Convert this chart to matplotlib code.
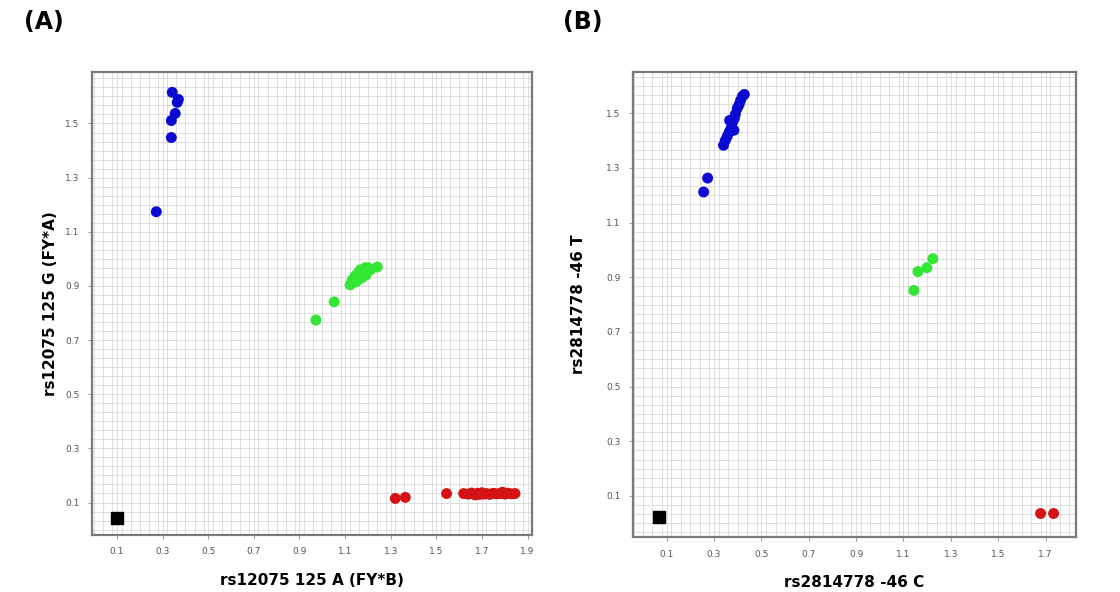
import numpy as np
import matplotlib
matplotlib.use("Agg")
import matplotlib.pyplot as plt
from matplotlib.ticker import MultipleLocator

# ---- panel A: rs12075 (FY*A / FY*B) ----
a_blue_x = [0.342, 0.369, 0.364, 0.355, 0.338, 0.338, 0.272]
a_blue_y = [1.615, 1.589, 1.578, 1.537, 1.511, 1.448, 1.174]
a_green_x = [0.972, 1.052, 1.241, 1.122, 1.131, 1.144, 1.157, 1.166, 1.179, 1.188,
             1.201, 1.210, 1.148, 1.174, 1.192, 1.135, 1.160]
a_green_y = [0.774, 0.841, 0.970, 0.904, 0.922, 0.937, 0.948, 0.959, 0.952, 0.967,
             0.967, 0.959, 0.915, 0.930, 0.941, 0.912, 0.925]
a_red_x = [1.320, 1.364, 1.545, 1.620, 1.640, 1.655, 1.670, 1.680, 1.690, 1.700,
           1.710, 1.720, 1.735, 1.750, 1.765, 1.780, 1.790, 1.800, 1.815, 1.830, 1.845]
a_red_y = [0.115, 0.119, 0.133, 0.133, 0.131, 0.135, 0.128, 0.134, 0.130, 0.136,
           0.131, 0.133, 0.130, 0.134, 0.132, 0.133, 0.138, 0.131, 0.134, 0.132, 0.133]
a_black_x = [0.100]
a_black_y = [0.041]

# ---- panel B: rs2814778 ----
b_blue_x = [0.256, 0.273, 0.340, 0.348, 0.356, 0.364, 0.372, 0.378, 0.386, 0.390,
            0.398, 0.406, 0.412, 0.420, 0.428, 0.366, 0.384]
b_blue_y = [1.212, 1.263, 1.383, 1.401, 1.416, 1.431, 1.445, 1.467, 1.481, 1.496,
            1.518, 1.532, 1.547, 1.562, 1.569, 1.474, 1.438]
b_green_x = [1.224, 1.199, 1.161, 1.144]
b_green_y = [0.968, 0.935, 0.921, 0.852]
b_red_x = [1.679, 1.734]
b_red_y = [0.036, 0.036]
b_black_x = [0.066]
b_black_y = [0.025]

TICKS = [0.1, 0.3, 0.5, 0.7, 0.9, 1.1, 1.3, 1.5, 1.7, 1.9]

BLUE = "#0a0ad2"
GREEN = "#33e633"
RED = "#d41414"


def style_axes(ax, xlim, ylim, yticks, xticks):
    ax.set_xlim(*xlim)
    ax.set_ylim(*ylim)
    ax.xaxis.set_minor_locator(MultipleLocator(0.04))
    ax.yaxis.set_minor_locator(MultipleLocator(0.2 / 6))
    ax.set_xticks(xticks)
    ax.set_yticks(yticks)
    ax.set_xticklabels([f"{t:.1f}" for t in xticks])
    ax.set_yticklabels([f"{t:.1f}" for t in yticks])
    ax.grid(which="both", color="#d8d8d8", linewidth=0.6)
    ax.set_axisbelow(True)
    ax.tick_params(which="major", labelsize=6.5, labelcolor="#555555", length=3,
                   color="#888888", width=0.6, pad=6)
    ax.tick_params(which="minor", length=0)
    for sp in ax.spines.values():
        sp.set_color("#7a7a7a")
        sp.set_linewidth(1.6)


def draw_panel(ax, groups, black):
    for xs, ys, c in groups:
        ax.scatter(xs, ys, s=62, color=c, edgecolors="none", zorder=3)
    ax.scatter(black[0], black[1], s=70, marker="s", color="black", zorder=3)


fig = plt.figure(figsize=(11.2, 5.92), dpi=100)

ax_a = fig.add_axes([0.0821, 0.0963, 0.393, 0.782])
style_axes(ax_a, (-0.01, 1.92), (-0.02, 1.69), TICKS[:8], TICKS)
draw_panel(ax_a, [(a_blue_x, a_blue_y, BLUE), (a_green_x, a_green_y, GREEN),
                  (a_red_x, a_red_y, RED)], (a_black_x, a_black_y))
ax_a.set_xlabel("rs12075 125 A (FY*B)", fontsize=11, fontweight="bold", labelpad=12)
ax_a.set_ylabel("rs12075 125 G (FY*A)", fontsize=11, fontweight="bold", labelpad=5)

ax_b = fig.add_axes([0.565, 0.0929, 0.396, 0.785])
style_axes(ax_b, (-0.043, 1.83), (-0.05, 1.65), TICKS[:8], TICKS[:9])
draw_panel(ax_b, [(b_blue_x, b_blue_y, BLUE), (b_green_x, b_green_y, GREEN),
                  (b_red_x, b_red_y, RED)], (b_black_x, b_black_y))
ax_b.set_xlabel("rs2814778 -46 C", fontsize=11, fontweight="bold", labelpad=12)
ax_b.set_ylabel("rs2814778 -46 T", fontsize=11, fontweight="bold", labelpad=14)

fig.text(0.021, 0.962, "(A)", fontsize=17, fontweight="bold", va="center")
fig.text(0.503, 0.962, "(B)", fontsize=17, fontweight="bold", va="center")

fig.savefig("out.png", dpi=100, facecolor="white")
